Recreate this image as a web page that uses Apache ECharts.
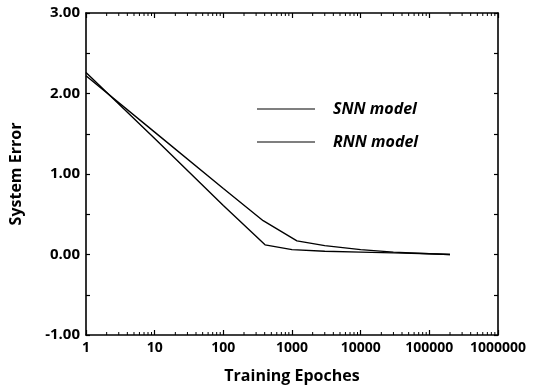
<!DOCTYPE html>
<html>
<head>
<meta charset="utf-8">
<script src="https://cdn.jsdelivr.net/npm/echarts@6/dist/echarts.min.js"></script>
<style>html,body{margin:0;padding:0;background:#fff}#c{width:534px;height:389px}</style>
</head>
<body>
<div id="c"></div>
<script>
// Data
const snnEpochs = [1, 10, 100, 380, 1180, 3000, 10000, 30000, 100000, 200000];
const snnError  = [2.22, 1.52, 0.82, 0.42, 0.17, 0.11, 0.06, 0.03, 0.01, 0.00];
const rnnEpochs = [1, 10, 100, 405, 1000, 3000, 10000, 30000, 100000, 200000];
const rnnError  = [2.26, 1.44, 0.61, 0.12, 0.06, 0.04, 0.03, 0.02, 0.01, 0.00];
const xTickLabels = ['1','10','100','1000','10000','100000','1000000'];
const yTickLabels = ['-1.00','0.00','1.00','2.00','3.00'];
const minorX = [];
for (let d = 1; d <= 100000; d *= 10) for (let k = 2; k <= 9; k++) minorX.push(k * d);

const font = '"Open Sans", "DejaVu Sans", sans-serif';
const fw = 'bold';
const chart = echarts.init(document.getElementById('c'));
const axisLineStyle = { color: '#000', width: 1.6 };
chart.setOption({
  animation: false,
  grid: { left: 86, right: 36, top: 13, bottom: 52 },
  legend: {
    orient: 'vertical', left: 252, top: 96, itemGap: 17,
    icon: 'rect', itemWidth: 58, itemHeight: 1.2,
    data: ['SNN model', 'RNN model'],
    textStyle: { fontFamily: font, fontWeight: fw, fontStyle: 'italic', fontSize: 16, color: '#000', padding: [0,0,0,13] }
  },
  xAxis: [{
    type: 'log', logBase: 10, min: 1, max: 1000000, position: 'bottom',
    name: 'Training Epoches', nameLocation: 'middle', nameGap: 33,
    nameTextStyle: { fontFamily: font, fontWeight: fw, fontSize: 16, color: '#000' },
    axisLine: { onZero: false, lineStyle: axisLineStyle },
    axisTick: { inside: true, length: 5, lineStyle: { color: '#000', width: 1.2 } },
    axisLabel: { fontFamily: font, fontWeight: fw, fontSize: 14, color: '#000', margin: 6,
      formatter: v => xTickLabels[Math.round(Math.log10(v))] },
    splitLine: { show: false }, minorTick: { show: false }
  }, {
    type: 'log', logBase: 10, min: 1, max: 1000000, position: 'top',
    axisLine: { onZero: false, lineStyle: axisLineStyle },
    axisTick: { inside: true, length: 5, lineStyle: { color: '#000', width: 1.2 } },
    axisLabel: { show: false }, splitLine: { show: false }
  }],
  yAxis: [{
    type: 'value', min: -1, max: 3, interval: 1, position: 'left',
    name: 'System Error', nameLocation: 'middle', nameGap: 62, nameRotate: 90,
    nameTextStyle: { fontFamily: font, fontWeight: fw, fontSize: 16, color: '#000' },
    axisLine: { show: true, onZero: false, lineStyle: axisLineStyle },
    axisTick: { show: true, inside: true, length: 4, lineStyle: { color: '#000', width: 1.2 } },
    minorTick: { show: true, splitNumber: 2, length: 4, lineStyle: { color: '#000', width: 1.2 } },
    axisLabel: { fontFamily: font, fontWeight: fw, fontSize: 15, color: '#000', margin: 6,
      formatter: v => yTickLabels[Math.round(v) + 1] },
    splitLine: { show: false }
  }, {
    type: 'value', min: -1, max: 3, interval: 1, position: 'right',
    axisLine: { show: true, onZero: false, lineStyle: axisLineStyle },
    axisTick: { show: true, inside: true, length: 4, lineStyle: { color: '#000', width: 1.2 } },
    minorTick: { show: true, splitNumber: 2, length: 4, lineStyle: { color: '#000', width: 1.2 } },
    axisLabel: { show: false }, splitLine: { show: false }
  }],
  series: [{
    name: 'SNN model', type: 'line', showSymbol: false, symbol: 'none',
    lineStyle: { color: '#000', width: 1.4 }, itemStyle: { color: '#000' },
    data: snnEpochs.map((x, i) => [x, snnError[i]])
  }, {
    name: 'RNN model', type: 'line', showSymbol: false, symbol: 'none',
    lineStyle: { color: '#000', width: 1.4 }, itemStyle: { color: '#000' },
    data: rnnEpochs.map((x, i) => [x, rnnError[i]])
  }, {
    type: 'custom', silent: true,
    data: minorX.map(v => [v]),
    encode: { x: 0 },
    renderItem: (params, api) => {
      const v = api.value(0);
      const b = api.coord([v, -1]);
      const t = api.coord([v, 3]);
      const s = { stroke: '#000', lineWidth: 1 };
      return { type: 'group', children: [
        { type: 'line', shape: { x1: b[0], y1: b[1], x2: b[0], y2: b[1] - 3 }, style: s },
        { type: 'line', shape: { x1: t[0], y1: t[1], x2: t[0], y2: t[1] + 3 }, style: s }
      ]};
    }
  }]
});
</script>
</body>
</html>
